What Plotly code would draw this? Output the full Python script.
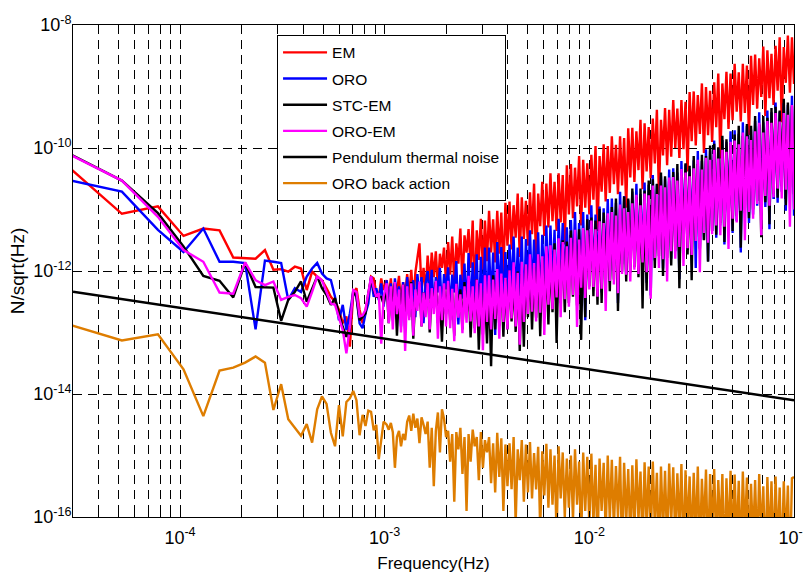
import numpy as np
import plotly.graph_objects as go

# ---------------- data (frequencies in mHz, spectra as log10 of N/sqrt(Hz)) ----------------
freq_low_mhz = [0.026, 0.052, 0.078, 0.104, 0.130, 0.156, 0.182, 0.208, 0.234, 0.260,
                0.286, 0.312, 0.338, 0.364, 0.390, 0.416, 0.442, 0.468, 0.494, 0.520,
                0.546, 0.572, 0.598, 0.624, 0.650, 0.676, 0.702, 0.728, 0.754, 0.780,
                0.806, 0.832, 0.858, 0.884, 0.910, 0.936, 0.962, 0.988]
freq_hi_mhz = [1.023, 1.047, 1.072, 1.096, 1.122, 1.148, 1.175, 1.202, 1.230, 1.259,
               1.288, 1.318, 1.349, 1.380, 1.413, 1.445, 1.479, 1.514, 1.549, 1.585,
               1.622, 1.660, 1.698, 1.738, 1.778, 1.820, 1.862, 1.905, 1.950, 1.995,
               2.042, 2.089, 2.138, 2.188, 2.239, 2.291, 2.344, 2.399, 2.455, 2.512,
               2.570, 2.630, 2.692, 2.754, 2.818, 2.884, 2.951, 3.020, 3.090, 3.162,
               3.236, 3.311, 3.388, 3.467, 3.548, 3.631, 3.715, 3.802, 3.890, 3.981,
               4.074, 4.169, 4.266, 4.365, 4.467, 4.571, 4.677, 4.786, 4.898, 5.012,
               5.129, 5.248, 5.370, 5.495, 5.623, 5.754, 5.888, 6.026, 6.166, 6.310,
               6.457, 6.607, 6.761, 6.918, 7.079, 7.244, 7.413, 7.586, 7.762, 7.943,
               8.128, 8.318, 8.511, 8.710, 8.913, 9.120, 9.333, 9.550, 9.772, 10.00,
               10.23, 10.47, 10.72, 10.96, 11.22, 11.48, 11.75, 12.02, 12.30, 12.59,
               12.88, 13.18, 13.49, 13.80, 14.13, 14.45, 14.79, 15.14, 15.49, 15.85,
               16.22, 16.60, 16.98, 17.38, 17.78, 18.20, 18.62, 19.05, 19.50, 19.95,
               20.42, 20.89, 21.38, 21.88, 22.39, 22.91, 23.44, 23.99, 24.55, 25.12,
               25.70, 26.30, 26.92, 27.54, 28.18, 28.84, 29.51, 30.20, 30.90, 31.62,
               32.36, 33.11, 33.88, 34.67, 35.48, 36.31, 37.15, 38.02, 38.90, 39.81,
               40.74, 41.69, 42.66, 43.65, 44.67, 45.71, 46.77, 47.86, 48.98, 50.12,
               51.29, 52.48, 53.70, 54.95, 56.23, 57.54, 58.88, 60.26, 61.66, 63.10,
               64.57, 66.07, 67.61, 69.18, 70.79, 72.44, 74.13, 75.86, 77.62, 79.43,
               81.28, 83.18, 85.11, 87.10, 89.13, 91.20, 93.33, 95.50, 97.72, 100.0]

em_low = [-10.19, -11.07, -10.95, -11.43, -11.31, -11.34, -11.78, -11.79, -11.80, -11.66,
          -11.98, -11.97, -12.01, -11.93, -11.96, -12.31, -12.01, -12.09, -12.15, -12.28,
          -12.42, -12.50, -12.63, -12.85, -12.74, -13.23, -12.36, -12.28, -12.63, -12.85,
          -12.63, -12.42, -12.09, -12.12, -12.36, -12.44, -12.12, -12.31]
em_hi = [-12.15, -12.45, -12.12, -12.55, -12.20, -12.35, -12.08, -12.60, -12.18, -12.40,
         -12.05, -12.40, -11.98, -12.50, -12.02, -11.80, -11.55, -12.30, -11.95, -12.35,
         -11.75, -12.25, -11.70, -12.10, -11.68, -12.30, -11.72, -11.95, -11.62, -12.20,
         -11.53, -12.06, -11.44, -12.22, -11.55, -11.88, -11.31, -12.24, -11.42, -11.70,
         -11.32, -11.95, -11.18, -12.46, -11.34, -11.82, -11.15, -11.98, -11.18, -11.84,
         -11.02, -11.70, -11.16, -11.86, -11.02, -11.72, -11.05, -12.08, -10.89, -11.59,
         -10.87, -11.65, -10.93, -11.46, -10.74, -11.77, -10.80, -11.48, -10.86, -11.59,
         -10.72, -11.40, -10.58, -11.91, -10.74, -11.27, -10.55, -11.43, -10.58, -11.29,
         -10.41, -11.19, -10.55, -11.35, -10.41, -11.21, -10.44, -11.57, -10.28, -11.08,
         -10.26, -11.14, -10.32, -10.95, -10.13, -11.26, -10.19, -10.97, -10.25, -11.08,
         -10.11, -10.84, -9.97, -11.35, -10.13, -10.71, -9.94, -10.87, -9.97, -10.73,
         -9.81, -10.59, -9.95, -10.75, -9.81, -10.61, -9.84, -10.97, -9.68, -10.48,
         -9.67, -10.55, -9.73, -10.36, -9.54, -10.67, -9.60, -10.38, -9.66, -10.49,
         -9.52, -10.25, -9.38, -10.76, -9.54, -10.12, -9.35, -10.28, -9.38, -10.14,
         -9.22, -10.00, -9.36, -10.16, -9.22, -10.02, -9.25, -10.38, -9.09, -9.89,
         -9.08, -9.96, -9.14, -9.77, -8.95, -10.08, -9.01, -9.79, -9.07, -9.90,
         -8.93, -9.66, -8.79, -10.17, -8.95, -9.53, -8.76, -9.69, -8.79, -9.55,
         -8.63, -9.41, -8.77, -9.57, -8.63, -9.43, -8.66, -9.79, -8.50, -9.30,
         -8.48, -9.36, -8.54, -9.17, -8.35, -9.48, -8.41, -9.19, -8.47, -9.30,
         -8.34, -9.07, -8.20, -9.58, -8.36, -8.94, -8.17, -9.10, -8.20, -8.96]

oro_low = [-10.49, -10.71, -11.33, -11.69, -11.31, -11.85, -11.85, -11.87, -12.95, -11.83,
           -11.85, -11.87, -12.47, -12.28, -12.34, -12.09, -11.96, -11.87, -12.04, -12.12,
           -12.15, -12.42, -12.80, -12.55, -12.96, -12.69, -12.34, -12.42, -12.85, -12.93,
           -12.69, -12.53, -12.09, -12.42, -12.28, -12.47, -12.20, -12.58]
oro_hi = [-12.15, -12.65, -12.20, -12.80, -12.12, -12.45, -12.25, -12.90, -12.18, -12.55,
          -12.10, -12.60, -12.30, -12.15, -12.75, -12.05, -12.40, -12.10, -12.85, -12.20,
          -12.00, -12.45, -11.98, -12.60, -12.10, -12.35, -11.95, -12.70, -12.05, -12.30,
          -11.94, -12.62, -12.06, -12.35, -11.84, -12.87, -12.06, -12.45, -11.88, -12.67,
          -11.71, -12.74, -11.86, -12.56, -11.73, -12.89, -11.77, -12.61, -11.62, -12.73,
          -11.62, -12.51, -11.70, -13.04, -11.53, -12.42, -11.61, -12.60, -11.69, -12.48,
          -11.57, -12.35, -11.44, -12.53, -11.62, -12.40, -11.44, -12.78, -11.48, -12.30,
          -11.34, -12.42, -11.49, -12.25, -11.37, -12.65, -11.41, -12.30, -11.26, -12.42,
          -11.26, -12.24, -11.33, -12.76, -11.15, -12.14, -11.22, -12.31, -11.29, -12.18,
          -11.17, -12.10, -11.04, -12.28, -11.22, -12.15, -11.04, -12.80, -11.08, -12.05,
          -10.93, -12.22, -11.08, -12.03, -10.95, -12.35, -10.98, -12.06, -10.83, -12.18,
          -10.82, -12.00, -10.89, -12.52, -10.71, -11.89, -10.78, -12.06, -10.85, -11.93,
          -10.71, -11.80, -10.58, -11.96, -10.75, -11.83, -10.56, -12.19, -10.60, -12.40,
          -10.44, -11.83, -10.59, -11.65, -10.46, -11.96, -10.50, -11.68, -10.35, -11.80,
          -10.33, -11.61, -10.40, -12.13, -10.21, -11.49, -10.27, -11.66, -10.34, -11.52,
          -10.20, -11.95, -10.05, -11.63, -10.21, -11.49, -10.02, -11.84, -10.04, -11.35,
          -9.88, -11.46, -10.01, -11.26, -9.87, -11.57, -9.90, -11.27, -9.73, -11.38,
          -9.71, -11.19, -9.77, -11.70, -9.58, -11.06, -9.64, -11.22, -9.70, -11.08,
          -9.56, -10.94, -9.42, -11.10, -9.58, -10.96, -9.39, -11.32, -9.42, -10.83,
          -9.26, -10.89, -9.41, -10.71, -9.27, -11.02, -9.30, -10.74, -9.15, -11.10]

stc_low = [-10.02, -10.53, -11.06, -11.60, -12.08, -12.16, -12.43, -11.87, -12.26, -12.27,
           -12.27, -12.81, -12.47, -12.34, -12.17, -12.50, -12.28, -12.09, -12.28, -12.39,
           -12.55, -12.44, -12.69, -12.91, -13.07, -12.96, -12.31, -12.42, -12.80, -12.74,
           -12.69, -12.36, -12.12, -12.31, -12.42, -12.42, -12.42, -12.53]
stc_hi = [-12.25, -12.85, -12.30, -12.60, -12.20, -13.05, -12.35, -12.70, -12.22, -12.95,
          -12.30, -12.75, -12.18, -13.10, -12.40, -12.55, -12.20, -12.90, -12.35, -12.65,
          -12.22, -13.00, -12.30, -12.60, -12.18, -12.85, -12.40, -13.15, -12.25, -12.70,
          -12.20, -12.80, -12.35, -13.05, -12.22, -12.65, -12.30, -12.95, -12.18, -12.75,
          -12.18, -13.08, -12.28, -12.93, -12.13, -13.28, -12.23, -13.03, -12.33, -13.18,
          -12.19, -13.55, -12.07, -12.95, -12.25, -12.89, -12.08, -13.07, -12.13, -12.95,
          -11.99, -12.82, -12.14, -12.99, -12.01, -13.30, -12.05, -13.23, -11.90, -12.75,
          -11.88, -12.95, -11.93, -12.76, -11.74, -13.06, -11.79, -12.77, -11.84, -12.87,
          -11.70, -12.67, -11.55, -13.17, -11.70, -12.52, -11.50, -12.67, -11.52, -12.52,
          -11.34, -12.42, -11.47, -12.56, -11.32, -13.12, -11.33, -12.75, -11.16, -12.25,
          -11.13, -12.41, -11.18, -12.55, -10.99, -12.52, -11.05, -12.22, -11.10, -12.33,
          -10.96, -12.14, -10.82, -12.65, -10.98, -12.01, -10.79, -12.17, -10.82, -12.03,
          -10.66, -11.94, -10.80, -12.10, -10.66, -12.61, -10.69, -12.32, -10.53, -11.83,
          -10.51, -11.95, -10.58, -11.76, -10.40, -12.08, -10.46, -11.79, -10.53, -11.91,
          -10.39, -11.68, -10.26, -12.28, -10.43, -11.56, -10.25, -11.73, -10.29, -12.15,
          -10.13, -11.50, -10.26, -11.65, -10.11, -11.50, -10.13, -11.85, -9.96, -11.35,
          -9.93, -11.41, -9.99, -11.22, -9.80, -11.53, -9.86, -11.24, -9.92, -11.35,
          -9.78, -11.11, -9.64, -11.62, -9.80, -10.98, -9.61, -11.14, -9.64, -11.00,
          -9.48, -10.86, -9.62, -11.45, -9.48, -10.88, -9.51, -11.24, -9.35, -10.75,
          -9.33, -10.81, -9.39, -10.62, -9.20, -10.93, -9.26, -10.64, -9.32, -10.75]

oroem_low = [-10.03, -10.53, -11.12, -11.66, -11.85, -12.35, -12.37, -11.86, -12.15, -12.23,
             -12.17, -12.47, -12.42, -12.39, -12.44, -12.58, -12.34, -12.09, -12.15, -12.36,
             -12.53, -12.55, -12.74, -12.96, -13.34, -12.91, -12.31, -12.34, -12.74, -12.72,
             -12.63, -12.34, -12.09, -12.28, -12.42, -12.36, -13.18, -12.42]
oroem_hi = [-12.20, -12.85, -12.25, -12.95, -12.18, -12.70, -12.30, -13.00, -12.22, -13.30,
            -12.25, -12.80, -12.20, -13.05, -12.30, -12.65, -12.17, -12.90, -12.35, -12.75,
            -12.20, -12.95, -12.28, -12.70, -12.16, -13.10, -12.25, -12.80, -12.20, -12.90,
            -12.16, -12.93, -12.29, -13.14, -12.21, -12.76, -12.38, -13.01, -12.25, -12.84,
            -12.08, -12.82, -12.25, -13.01, -12.14, -12.90, -12.20, -13.29, -12.07, -12.83,
            -12.07, -12.95, -12.14, -12.78, -11.97, -13.10, -12.04, -12.83, -12.11, -12.95,
            -11.99, -12.77, -11.86, -12.90, -12.03, -13.20, -11.85, -12.83, -11.89, -12.70,
            -11.73, -12.66, -11.87, -12.82, -11.73, -12.68, -11.76, -13.04, -11.60, -12.55,
            -11.58, -12.62, -11.65, -12.43, -11.47, -12.75, -11.53, -12.46, -11.60, -12.58,
            -11.46, -12.39, -11.33, -12.91, -11.49, -12.27, -11.30, -12.44, -11.34, -12.30,
            -11.18, -12.26, -11.32, -12.42, -11.19, -12.29, -11.22, -12.65, -11.06, -12.16,
            -11.04, -12.22, -11.10, -12.36, -10.92, -12.05, -10.98, -12.06, -11.04, -12.17,
            -10.90, -11.98, -10.76, -12.05, -10.93, -11.86, -10.74, -12.02, -10.77, -12.45,
            -10.61, -11.79, -10.75, -11.95, -10.61, -11.81, -10.64, -12.17, -10.48, -11.68,
            -10.47, -11.80, -10.53, -11.61, -10.34, -11.92, -10.40, -11.63, -10.46, -11.74,
            -10.33, -11.51, -10.19, -12.02, -10.35, -11.38, -10.16, -11.54, -10.19, -11.40,
            -10.03, -11.26, -10.17, -11.42, -10.03, -11.28, -10.06, -11.64, -9.90, -11.15,
            -9.88, -11.21, -9.94, -11.02, -9.75, -11.50, -9.81, -11.04, -9.87, -11.15,
            -9.73, -10.91, -9.59, -11.42, -9.75, -10.78, -9.56, -10.94, -9.59, -10.80,
            -9.43, -10.66, -9.57, -10.82, -9.43, -10.68, -9.46, -11.28, -9.30, -11.00]

backaction_low = [-12.83, -13.13, -13.03, -13.60, -14.36, -13.62, -13.57, -13.49, -13.39, -13.49,
                  -14.26, -13.84, -14.41, -14.54, -14.68, -14.49, -14.79, -14.25, -14.04, -14.16,
                  -14.63, -14.85, -14.18, -14.69, -14.13, -14.07, -13.95, -14.10, -14.67, -14.34,
                  -14.52, -14.27, -14.29, -14.59, -14.50, -15.06, -14.75, -14.45]
backaction_hi = [-14.50, -14.58, -14.47, -14.62, -15.20, -14.70, -14.60, -14.85, -14.65, -14.75,
                 -14.45, -14.35, -14.60, -14.32, -14.55, -14.40, -14.80, -14.38, -14.50, -14.65,
                 -14.45, -15.20, -14.55, -15.50, -14.60, -14.30, -14.95, -14.25, -14.40, -14.70,
                 -14.60, -15.10, -14.65, -15.75, -14.62, -14.90, -14.55, -15.30, -14.70, -15.90,
                 -14.65, -15.10, -14.58, -14.85, -14.70, -15.40, -14.62, -15.20, -14.75, -14.95,
                 -14.70, -15.45, -14.80, -15.60, -14.63, -15.35, -14.72, -15.90, -14.82, -15.50,
                 -14.80, -15.55, -14.70, -16.10, -14.90, -15.40, -14.75, -15.75, -14.82, -15.60,
                 -14.78, -15.70, -14.96, -15.55, -14.86, -16.20, -14.93, -15.65, -14.81, -15.85,
                 -14.90, -15.80, -15.00, -16.30, -14.85, -15.70, -14.95, -16.00, -15.05, -15.85,
                 -15.00, -16.05, -14.90, -15.80, -15.10, -16.40, -14.95, -15.90, -15.02, -16.15,
                 -14.97, -16.10, -15.15, -16.50, -15.05, -15.90, -15.12, -16.25, -15.00, -16.05,
                 -15.07, -16.20, -15.17, -16.00, -15.02, -16.60, -15.12, -16.10, -15.22, -16.35,
                 -15.16, -16.30, -15.06, -16.05, -15.26, -16.50, -15.11, -16.15, -15.18, -16.40,
                 -15.10, -16.15, -15.28, -16.60, -15.18, -16.25, -15.25, -16.45, -15.13, -16.10,
                 -15.19, -16.40, -15.29, -16.20, -15.14, -16.70, -15.24, -16.25, -15.34, -16.50,
                 -15.28, -16.35, -15.18, -16.60, -15.38, -16.20, -15.23, -16.75, -15.30, -16.30,
                 -15.22, -16.50, -15.40, -16.25, -15.30, -16.80, -15.37, -16.40, -15.25, -16.55,
                 -15.31, -16.45, -15.41, -16.70, -15.26, -16.30, -15.36, -16.60, -15.46, -16.40,
                 -15.40, -16.60, -15.30, -16.35, -15.50, -16.85, -15.35, -16.50, -15.42, -16.70,
                 -15.34, -16.55, -15.52, -16.80, -15.42, -16.45, -15.49, -16.90, -15.37, -15.35]

thermal_freq_hz = [3e-5, 1e-1]
thermal_value = [4.6e-13, 7.9e-15]

series_names = ["EM", "ORO", "STC-EM", "ORO-EM", "Pendulum thermal noise", "ORO back action"]
series_colors = ["#ff0000", "#0000ff", "#000000", "#ff00ff", "#000000", "#de7d00"]

x_tick_vals = [1e-4, 1e-3, 1e-2, 1e-1]
x_tick_text = ["10<sup>-4</sup>", "10<sup>-3</sup>", "10<sup>-2</sup>", "10<sup>-1</sup>"]
y_tick_vals = [1e-16, 1e-14, 1e-12, 1e-10, 1e-8]
y_tick_text = ["10<sup>-16</sup>", "10<sup>-14</sup>", "10<sup>-12</sup>", "10<sup>-10</sup>", "10<sup>-8</sup>"]

# ---------------- figure ----------------
freq_hz = np.array(freq_low_mhz + freq_hi_mhz) * 1e-3
spectra = [em_low + em_hi, oro_low + oro_hi, stc_low + stc_hi, oroem_low + oroem_hi]

fig = go.Figure()
for k, logs in enumerate(spectra):
    fig.add_trace(go.Scatter(x=freq_hz, y=10.0 ** np.array(logs), mode="lines",
                             name=series_names[k], legendgroup=series_names[k],
                             line=dict(color=series_colors[k], width=2.4), hoverinfo="skip"))
fig.add_trace(go.Scatter(x=thermal_freq_hz, y=thermal_value, mode="lines",
                         name=series_names[4], legendgroup=series_names[4],
                         line=dict(color=series_colors[4], width=2.5), hoverinfo="skip"))
fig.add_trace(go.Scatter(x=freq_hz, y=10.0 ** np.array(backaction_low + backaction_hi), mode="lines",
                         name=series_names[5], legendgroup=series_names[5],
                         line=dict(color=series_colors[5], width=2.4), hoverinfo="skip"))

minor_x = [m * 10.0 ** e for e in range(-5, -1) for m in range(2, 10)]
grid_dash = "9px,6px"
font_family = "Arial, 'Liberation Sans', Helvetica, sans-serif"

fig.update_layout(
    width=803, height=576,
    margin=dict(l=73, r=9, t=25, b=59, autoexpand=False),
    paper_bgcolor="white", plot_bgcolor="white",
    font=dict(family=font_family, size=18, color="black"),
    legend=dict(x=0.283, y=0.98, xanchor="left", yanchor="top",
                bgcolor="white", bordercolor="black", borderwidth=1,
                font=dict(size=15.5), tracegroupgap=3, itemwidth=44, traceorder="grouped"),
    xaxis=dict(type="log", range=[np.log10(3e-5), -1], automargin=False,
               tickvals=x_tick_vals, ticktext=x_tick_text, tickfont=dict(size=18),
               ticks="inside", ticklen=6, tickcolor="black", ticklabelstandoff=4,
               ticklabeloverflow="allow",
               showline=True, linecolor="black", linewidth=1, mirror="ticks",
               showgrid=True, gridcolor="black", gridwidth=1, griddash=grid_dash,
               minor=dict(tickvals=minor_x, ticks="inside", ticklen=4, tickcolor="black",
                          showgrid=True, gridcolor="black", gridwidth=1, griddash=grid_dash),
               zeroline=False,
               title=dict(text="Frequency(Hz)", standoff=10, font=dict(size=17))),
    yaxis=dict(type="log", range=[-16, -8], automargin=False,
               tickvals=y_tick_vals, ticktext=y_tick_text, tickfont=dict(size=18),
               ticks="inside", ticklen=6, tickcolor="black", ticklabelstandoff=-3,
               showline=True, linecolor="black", linewidth=1, mirror="ticks",
               showgrid=True, gridcolor="black", gridwidth=1, griddash=grid_dash,
               zeroline=False,
               title=dict(text="N/sqrt(Hz)", standoff=3, font=dict(size=19))),
)

fig.write_html("out.html", config={"displayModeBar": False},
               post_script="document.body.style.margin='0';")
